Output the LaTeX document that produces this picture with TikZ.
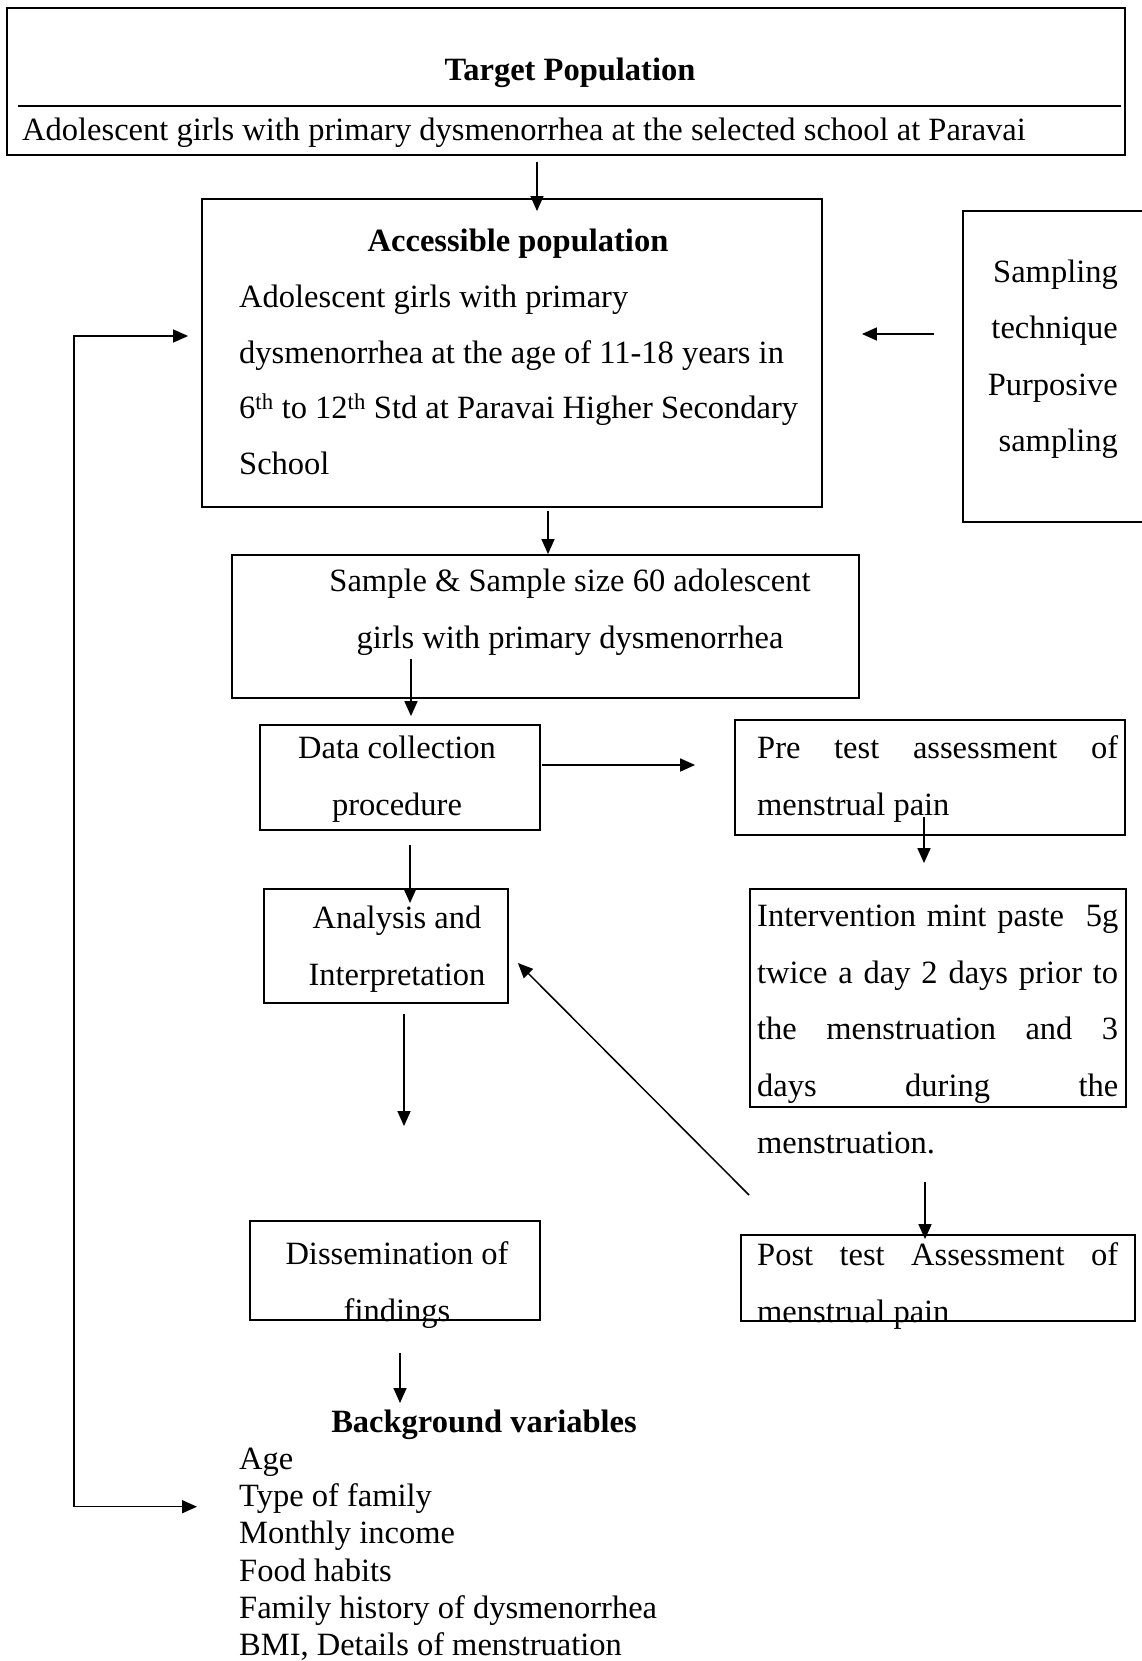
\documentclass[tikz,border=0pt]{standalone}
\usepackage{fontspec}
\setmainfont{Liberation Serif}
\usetikzlibrary{calc,arrows.meta}

\tikzset{
  box/.style={draw, line width=1.8pt, inner sep=0pt},
  txt/.style={inner sep=0pt, font=\fontsize{32.5}{56.5}\selectfont},
  txtb/.style={inner sep=0pt, font=\fontsize{32.5}{56.5}\selectfont\bfseries},
  arr/.style={-{Triangle[length=15pt,width=13pt]}, line width=1.5pt},
  arrs/.style={{Triangle[length=15pt,width=13pt]}-{Triangle[length=15pt,width=13pt]}, line width=1.5pt},
}
\newcommand{\jline}[1]{\makebox[361pt][s]{#1}}

\begin{document}
\begin{tikzpicture}[x=1pt,y=-1pt]
\clip (0,0) rectangle (1142,1661);

%Boxes
\node[box, minimum width=1118, minimum height=147] (target) at (566,81.5) {};
\draw[line width=1.8pt] (18,106) -- (1121,106);
\node[box, minimum width=620, minimum height=308] (acc) at (512,353) {};
\node[box, minimum width=187, minimum height=311] (samp) at (1056.5,366.5) {};
\node[box, minimum width=627, minimum height=143] (sample) at (545.5,626.5) {};
\node[box, minimum width=280, minimum height=105] (data) at (400,777.5) {};
\node[box, minimum width=390, minimum height=115] (pre) at (930,777.5) {};
\node[box, minimum width=244, minimum height=114] (ana) at (386,946) {};
\node[box, minimum width=376, minimum height=218] (interv) at (938,998) {};
\node[box, minimum width=290, minimum height=99] (diss) at (395,1270.5) {};
\node[box, minimum width=394, minimum height=86] (post) at (938,1278) {};

%Texts (multi-line nodes sit on the baseline of their last line)
\node[txtb, anchor=base] (targett) at (570,80.5) {Target Population};
\node[txt, anchor=base west] (targets) at (22,140.5) {Adolescent girls with primary dysmenorrhea at the selected school at Paravai};
\node[txtb, anchor=base] (acct) at (518,251.5) {Accessible population};
\node[txt, font=\fontsize{32.5}{55.5}\selectfont, anchor=base west, align=left] (accs) at (239,474)
  {Adolescent girls with primary\\dysmenorrhea at the age of 11-18 years in\\6\textsuperscript{th} to 12\textsuperscript{th} Std at Paravai Higher Secondary\\School};
\node[txt, font=\fontsize{32.5}{56.3}\selectfont, anchor=base east, align=right] (samps) at (1118,451.4) {Sampling\\technique\\Purposive\\sampling};
\node[txt, anchor=base, align=center] (sampt) at (570,648) {Sample \& Sample size 60 adolescent\\girls with primary dysmenorrhea};
\node[txt, anchor=base, align=center] (datat) at (397,815) {Data collection\\procedure};
\node[txt, anchor=base west, align=left] (pret) at (757,815) {\jline{Pre test assessment of}\\menstrual pain};
\node[txt, anchor=base, align=center] (anat) at (397,985) {Analysis and\\Interpretation};
\node[txt, font=\fontsize{32.5}{56.7}\selectfont, anchor=base west, align=left] (intervt) at (757,1153.3)
  {\jline{Intervention mint paste~~5g}\\\jline{twice a day 2 days prior to}\\\jline{the menstruation and 3}\\\jline{days during the}\\menstruation.};
\node[txt, anchor=base, align=center] (disst) at (397,1321) {Dissemination of\\findings};
\node[txt, anchor=base west, align=left] (postt) at (757,1322) {\jline{Post test Assessment of}\\menstrual pain};
\node[txtb, anchor=base] (bgt) at (484,1432.5) {Background variables};
\foreach \t [count=\i] in {Age, Type of family, Monthly income, Food habits, Family history of dysmenorrhea, {BMI, Details of menstruation}}
  \node[txt, anchor=base west] (bg\i) at (239,1469.5+37.2*\i-37.2) {\t};

%Arrows
\draw[arr] ($(target.south)+(-29,6)$) -- ($(acc.north)+(25,13)$);
\draw[arr] ($(samp.west)+(-28,-32.5)$) -- ($(acc.east)+(39,-19)$);
\draw[arr] ($(acc.south)+(36,3)$) -- ($(sample.north)+(2.5,0)$);
\draw[arr] ($(sample.south)+(-134.5,-40)$) -- ($(data.north)+(11,-8)$);
\draw[arr] ($(data.east)+(1,-12.5)$) -- ($(pre.west)+(-39,-12.5)$);
\draw[arr] ($(pre.south)+(-6,-19)$) -- ($(interv.north)+(-14,-25)$);
\draw[arr] ($(data.south)+(10,14)$) -- ($(ana.north)+(24,15)$);
\draw[arr] ($(ana.south)+(18,10)$) -- ($(diss.north)+(9,-94)$);
\draw[arr] ($(post.north west)+(9,-39)$) -- ($(ana.east)+(9,17)$);
\draw[arr] ($(interv.south)+(-13,74)$) -- ($(post.north)+(-13,5)$);
\draw[arr] ($(diss.south)+(5,32)$) -- ($(bgt.base)+(-84,-29.5)$);
\draw[arrs] ($(acc.west)+(-13,-17)$) -- ++(-114,0) |- ($(bg2.base west)+(-42,0)$);

\end{tikzpicture}
\end{document}
